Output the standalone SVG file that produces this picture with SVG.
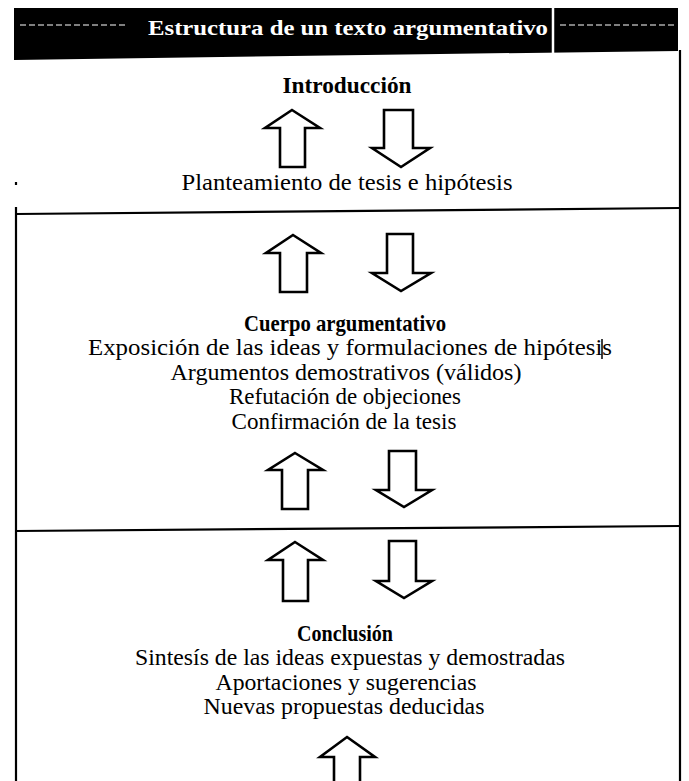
<svg xmlns="http://www.w3.org/2000/svg" width="689" height="781" viewBox="0 0 689 781">
  <style>
    .t { font-family: "Liberation Serif", "Times New Roman", serif; font-size: 23px; fill: #000; text-anchor: middle; }
    .b { font-weight: bold; }
    .h { font-family: "Liberation Serif", "Times New Roman", serif; font-size: 21px; font-weight: bold; fill: #fff; text-anchor: middle; }
    .ar { fill: #fff; stroke: #000; stroke-width: 2.6; stroke-linejoin: miter; }
    .ln { stroke: #000; stroke-width: 2.2; fill: none; }
  </style>
  <rect width="689" height="781" fill="#fff"/>

  <g id="header">
    <polygon points="14,8 678,8 678,51 440,54 14,60" fill="#000"/>
    <line x1="20" y1="25" x2="125" y2="25" stroke="#fff" stroke-width="1" stroke-dasharray="6 3"/>
    <line x1="560" y1="25" x2="674" y2="25" stroke="#fff" stroke-width="1" stroke-dasharray="6 3"/>
    <line x1="553" y1="8" x2="553" y2="53" stroke="#fff" stroke-width="2.5"/>
    <text class="h" x="348" y="35" textLength="400" lengthAdjust="spacingAndGlyphs">Estructura de un texto argumentativo</text>
  </g>

  <g id="frame">
    <line class="ln" x1="680" y1="50" x2="680" y2="781"/>
    <line class="ln" x1="16" y1="207" x2="16" y2="781"/>
    <line class="ln" x1="16" y1="182" x2="16" y2="185"/>
    <line class="ln" x1="16" y1="214" x2="680" y2="208"/>
    <line class="ln" x1="16" y1="531" x2="680" y2="526"/>
  </g>

  <g id="introduccion">
    <text class="t b" x="347" y="93" textLength="129" lengthAdjust="spacingAndGlyphs">Introducción</text>
    <text class="t" x="347" y="190" textLength="331" lengthAdjust="spacingAndGlyphs">Planteamiento de tesis e hipótesis</text>
  </g>

  <g id="cuerpo">
    <text class="t b" x="345" y="331" textLength="202" lengthAdjust="spacingAndGlyphs">Cuerpo argumentativo</text>
    <text class="t" x="350" y="355" textLength="524" lengthAdjust="spacingAndGlyphs">Exposición de las ideas y formulaciones de hipótesis</text>
    <line x1="602" y1="339" x2="602" y2="359" stroke="#000" stroke-width="1.5"/>
    <text class="t" x="346" y="380" textLength="351" lengthAdjust="spacingAndGlyphs">Argumentos demostrativos (válidos)</text>
    <text class="t" x="345" y="404" textLength="232" lengthAdjust="spacingAndGlyphs">Refutación de objeciones</text>
    <text class="t" x="344" y="429" textLength="225" lengthAdjust="spacingAndGlyphs">Confirmación de la tesis</text>
  </g>

  <g id="conclusion">
    <text class="t b" x="345" y="641" textLength="96" lengthAdjust="spacingAndGlyphs">Conclusión</text>
    <text class="t" x="350" y="665" textLength="430" lengthAdjust="spacingAndGlyphs">Sintesís de las ideas expuestas y demostradas</text>
    <text class="t" x="346" y="690" textLength="261" lengthAdjust="spacingAndGlyphs">Aportaciones y sugerencias</text>
    <text class="t" x="344" y="714" textLength="281" lengthAdjust="spacingAndGlyphs">Nuevas propuestas deducidas</text>
  </g>

  <g id="connectors">
    <polygon class="ar" points="292,110 320,128 305,128 305,167 280,167 280,128 265,128"/>
    <polygon class="ar" points="384,110 413,110 413,148 430,148 401,167 372,148 384,148"/>

    <polygon class="ar" points="293,235 321,253 307,253 307,292 280,292 280,253 266,253"/>
    <polygon class="ar" points="387,234 413,234 413,273 431,273 401,291 372,273 387,273"/>

    <polygon class="ar" points="295,453 323,470 308,470 308,509 282,509 282,470 268,470"/>
    <polygon class="ar" points="389,451 416,451 416,490 432,490 404,507 376,490 389,490"/>

    <polygon class="ar" points="295,542 323,560 308,560 308,601 283,601 283,560 268,560"/>
    <polygon class="ar" points="389,541 416,541 416,581 432,581 404,598 376,581 389,581"/>

    <polygon class="ar" points="347,737 375,757 360,757 360,784 334,784 334,757 320,757"/>
  </g>
</svg>
